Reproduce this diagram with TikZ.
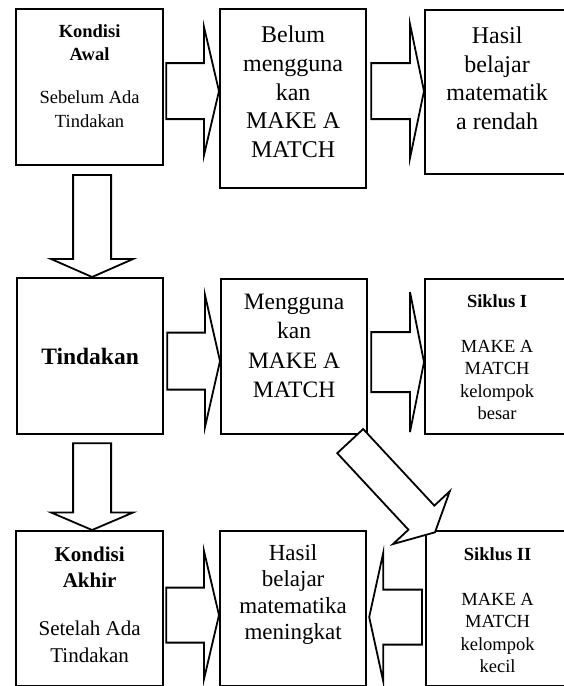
\documentclass[tikz,border=0pt]{standalone}
\usepackage{fontspec}
\setmainfont{Liberation Serif}
\usetikzlibrary{calc}
\newcommand{\fsz}[2]{\fontsize{#1}{#2}\selectfont}
\newcommand{\blockarrow}[5]{%
  \path ($(#2)!#5!(#1)$) coordinate (hb);
  \draw[barrow] ($(#1)!#3!90:(#2)$) -- ($(hb)!#3!90:(#2)$) -- ($(hb)!#4!90:(#2)$) -- (#2)
    -- ($(hb)!#4!-90:(#2)$) -- ($(hb)!#3!-90:(#2)$) -- ($(#1)!#3!-90:(#2)$) -- cycle;}
\begin{document}
\begin{tikzpicture}[x=1pt,y=-1pt,
   box/.style={draw,line width=2.2pt,anchor=north west,inner sep=0pt},
   txt/.style={anchor=north,inner sep=0pt,align=center},
   barrow/.style={draw,fill=white,line width=1.8pt}]
\useasboundingbox (0,0) rectangle (564,686);
\clip (0,0) rectangle (564,686);
\fill[white] (0,0) rectangle (564,686);
\node[box,minimum width=147pt,minimum height=156pt] (awal) at (15,8) {};
\node[box,minimum width=146pt,minimum height=179pt] (belum) at (219,8) {};
\node[box,minimum width=144pt,minimum height=164pt] (hasil) at (424,9) {};
\node[box,minimum width=146pt,minimum height=156pt,font=\fsz{23.5}{28}\bfseries] (tindakan) at (16,277) {Tindakan};
\node[box,minimum width=146pt,minimum height=155pt] (guna) at (220,278) {};
\node[box,minimum width=144pt,minimum height=155pt] (siklusI) at (424,278) {};
\node[box,minimum width=147pt,minimum height=155pt] (akhir) at (15,530) {};
\node[box,minimum width=146pt,minimum height=155pt] (naik) at (219,530) {};
\node[box,minimum width=143pt,minimum height=155pt] (siklusII) at (425,530) {};

\node[txt,font=\fsz{18.5}{23.5}] (awal-t) at ([yshift=-16.4pt]awal.north) {\textbf{Kondisi}\\\textbf{Awal}\\[19.5pt]Sebelum Ada\\Tindakan};
\node[txt,font=\fsz{24}{28.8}] (belum-t) at ([yshift=-17.7pt]belum.north) {Belum\\mengguna\\kan\\MAKE A\\MATCH};
\node[txt,font=\fsz{24}{28.5}] (hasil-t) at ([yshift=-17.7pt]hasil.north) {Hasil\\belajar\\matematik\\a rendah};
\node[txt,font=\fsz{23.5}{29.3}] (guna-t) at ([yshift=-16pt]guna.north) {Mengguna\\kan\\MAKE A\\MATCH};
\node[txt,font=\fsz{18.5}{22.3}] (siklusI-t) at ([yshift=-16.4pt]siklusI.north) {\textbf{Siklus I}\\[22.7pt]MAKE A\\MATCH\\kelompok\\besar};
\node[txt,font=\fsz{21}{26.5}] (akhir-t) at ([yshift=-16.7pt]akhir.north) {\textbf{Kondisi}\\\textbf{Akhir}\\[21.5pt]Setelah Ada\\Tindakan};
\node[txt,font=\fsz{23}{26.3}] (naik-t) at ([yshift=-14.4pt]naik.north) {Hasil\\belajar\\matematika\\meningkat};
\node[txt,font=\fsz{18.5}{22.3}] (siklusII-t) at ([yshift=-17.4pt]siklusII.north) {\textbf{Siklus II}\\[22.7pt]MAKE A\\MATCH\\kelompok\\kecil};

\coordinate (a1) at ([xshift=2pt,yshift=-4pt]awal.east);
\coordinate (b1) at (a1 -| belum.west);
\blockarrow{a1}{b1}{28pt}{64pt}{15pt}
\coordinate (a2) at ([xshift=4pt,yshift=7.5pt]belum.east);
\coordinate (b2) at (a2 -| hasil.west);
\blockarrow{a2}{b2}{28pt}{67pt}{14pt}
\coordinate (a3) at ([xshift=3pt,yshift=-5pt]tindakan.east);
\coordinate (b3) at (a3 -| guna.west);
\blockarrow{a3}{b3}{28.5pt}{66pt}{15pt}
\coordinate (a4) at ([xshift=3pt,yshift=-5.5pt]guna.east);
\coordinate (b4) at (a4 -| siklusI.west);
\blockarrow{a4}{b4}{30pt}{70pt}{14pt}
\coordinate (a5) at ([xshift=2pt,yshift=-6.5pt]akhir.east);
\coordinate (b5) at (a5 -| naik.west);
\blockarrow{a5}{b5}{27.5pt}{64pt}{15pt}
\coordinate (a6) at ([xshift=-3pt,yshift=-8.5pt]siklusII.west);
\coordinate (b6) at ([xshift=2pt]a6 -| naik.east);
\blockarrow{a6}{b6}{27.5pt}{64pt}{14pt}
\coordinate (a7) at ([xshift=-18pt,yshift=-5.9pt]guna.south east);
\coordinate (b7) at ([xshift=10pt,yshift=-2.3pt]siklusII.north west);
\blockarrow{a7}{b7}{17.7pt}{38.8pt}{20pt}
\coordinate (a8) at ([xshift=2.5pt,yshift=-8.7pt]awal.south);
\coordinate (b8) at (a8 |- tindakan.north);
\blockarrow{a8}{b8}{19pt}{41pt}{18pt}
\coordinate (a9) at ([xshift=2pt,yshift=-8pt]tindakan.south);
\coordinate (b9) at (a9 |- akhir.north);
\blockarrow{a9}{b9}{19pt}{41pt}{17.5pt}
\end{tikzpicture}
\end{document}
